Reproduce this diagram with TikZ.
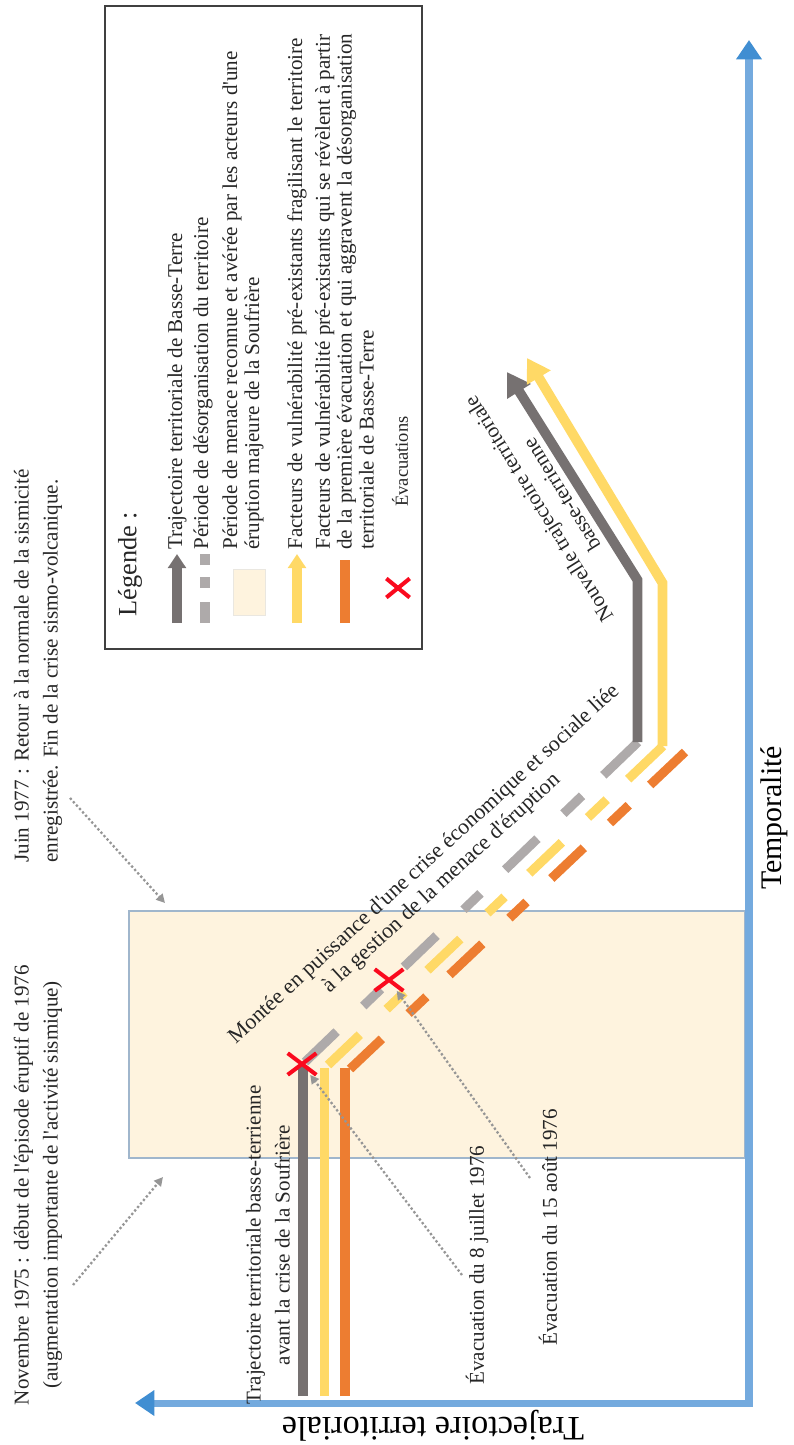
\documentclass[tikz,border=0pt]{standalone}
\usepackage{fontspec}
\setmainfont{Liberation Serif}
\newfontfamily\plainq{Liberation Serif}
\newcommand{\apos}{{\plainq'}}
\usetikzlibrary{arrows.meta,calc,shapes.misc}

\definecolor{trajgray}{RGB}{118,113,113}
\definecolor{disgray}{RGB}{174,170,170}
\definecolor{vulnyellow}{RGB}{255,217,102}
\definecolor{vulnorange}{RGB}{237,125,49}
\definecolor{evacred}{RGB}{250,10,30}
\definecolor{axisblue}{RGB}{116,170,222}
\definecolor{tipblue}{RGB}{64,142,210}
\definecolor{menacefill}{RGB}{254,243,222}
\definecolor{menaceline}{RGB}{160,182,204}
\definecolor{notegray}{RGB}{150,150,150}

\tikzset{
  axis/.style={axisblue, line width=4pt, -{Triangle[length=11pt,width=14pt,color=tipblue]}},
  axislabel/.style={font=\fontsize{17}{20}\selectfont, inner sep=0pt},
  track/.style={line width=5.6pt},
  dashtrack/.style={line width=5.2pt},
  bigtip/.style={-{Triangle[length=13pt,width=15pt]}},
  txt/.style={font=\fontsize{12}{16.5}\selectfont, inner sep=0pt, text=black!85},
  legtxt/.style={font=\fontsize{12}{12.5}\selectfont, inner sep=0pt, text=black!85,
    rotate=90, anchor=west, align=left},
  evac/.style={cross out, draw=evacred, line width=2.3pt, minimum width=14pt,
    minimum height=10pt, inner sep=0pt},
  note/.style={notegray, line width=1.3pt, dash pattern=on 1.3pt off 1.3pt,
    -{Triangle[length=5pt,width=5pt]}}
}

\begin{document}
\begin{tikzpicture}[x=0.02cm, y=-0.02cm]
\useasboundingbox (0,0) rectangle (794,1445);

% Periode de menace
\fill[menacefill] (129,911) rectangle (745,1158);
\draw[menaceline, line width=0.6pt] (129,911) rectangle (745,1158);

% Axes
\coordinate (ttop) at (749,40);
\coordinate (tleft) at (135,1403);
\draw[axis] (749,1406.5) -- (ttop);
\draw[axis] (752.5,1403) -- (tleft);
\node[axislabel, rotate=90] (temp) at (774,818) {Temporalité};
\node[axislabel, rotate=180, font=\fontsize{19.5}{22}\selectfont] (trajaxis) at (433,1426) {Trajectoire territoriale};

% Trajectoire avant la crise
\draw[track, trajgray] (303,1396) -- (303,1066);
\draw[track, vulnyellow] (324.5,1396) -- (324.5,1068);
\draw[track, vulnorange] (345,1396) -- (345,1068);

% Desorganisation
\coordinate (gA) at (305,1062); \coordinate (gB) at (638,742);
\coordinate (yA) at (328,1065); \coordinate (yB) at (663,746);
\coordinate (oA) at (350,1069); \coordinate (oB) at (685,752);
\foreach \a/\b in {0/.095,.175/.228,.297/.395,.476/.527,.601/.698,.776/.832,.896/1}{
  \draw[dashtrack, disgray] ($(gA)!\a!(gB)$) -- ($(gA)!\b!(gB)$);
  \draw[dashtrack, vulnyellow] ($(yA)!\a!(yB)$) -- ($(yA)!\b!(yB)$);
  \draw[dashtrack, vulnorange] ($(oA)!\a!(oB)$) -- ($(oA)!\b!(oB)$);
}

% Nouvelle trajectoire
\draw[track, trajgray, bigtip] (637.5,742) -- (637.5,580) -- (507,372);
\draw[track, vulnyellow, bigtip] (662.5,746) -- (662.5,583) -- (527,358);

% Evacuations
\node[evac] (evacA) at (302,1064) {};
\node[evac] (evacB) at (389,980) {};

% Textes
\node[txt, rotate=90, align=center] (avant) at (268,1245)
  {Trajectoire territoriale basse-terrienne\\avant la crise de la Soufrière};
\node[txt, rotate=42.5, align=center, font=\fontsize{12.5}{14.5}\selectfont] (montee) at (433,874)
  {Montée en puissance d\apos une crise économique et sociale liée\\à la gestion de la menace d\apos éruption};
\node[txt, rotate=122, align=center, font=\fontsize{12}{15.4}\selectfont] (nouvelle) at (550,502)
  {Nouvelle trajectoire territoriale\\basse-terrienne};
\node[txt, rotate=90, anchor=west] (ev8) at (477,1385) {Évacuation du 8 juillet 1976};
\node[txt, rotate=90, anchor=west] (ev15) at (548,1346) {Évacuation du 15 août 1976};
\node[txt, rotate=90, align=left, anchor=west] (juin) at (38,863)
  {Juin 1977 : Retour à la normale de la sismicité\\enregistrée. Fin de la crise sismo-volcanique.};
\node[txt, rotate=90, align=center] (nov) at (38,1185)
  {Novembre 1975 : début de l\apos épisode éruptif de 1976\\(augmentation importante de l\apos activité sismique)};

% Fleches pointillees
\coordinate (juinS) at (70,798); \coordinate (juinE) at (165,903);
\coordinate (novS) at (73,1285); \coordinate (novE) at (163,1177);
\coordinate (ev8S) at (462,1275);
\coordinate (ev15S) at (530,1178);
\draw[note] (juinS) -- (juinE);
\draw[note] (novS) -- (novE);
\draw[note] (ev8S) -- (evacA);
\draw[note] (ev15S) -- (evacB);

% Legende
\draw[black!75, line width=1.1pt] (105,6) rectangle (422,649);
\node[txt, rotate=90, anchor=west, font=\fontsize{15}{16}\selectfont] (legtitle) at (130,617) {Légende :};
\draw[track, trajgray, -{Triangle[length=8pt,width=10pt]}] (177,623) -- (177,554);
\draw[dashtrack, disgray] (205,623) -- (205,602) (205,588) -- (205,577) (205,565) -- (205,554);
\draw[fill=menacefill, draw=menacefill!80!black!40!white, line width=0.4pt] (233,569) rectangle (265,615);
\draw[track, vulnyellow, -{Triangle[length=8pt,width=10pt]}] (297,623) -- (297,554);
\draw[track, vulnorange] (345,623) -- (345,560);
\node[evac, minimum width=11pt, minimum height=8.5pt] (evacL) at (398,588) {};
\node[legtxt] (leg1) at (177,550) {Trajectoire territoriale de Basse-Terre};
\node[legtxt] (leg2) at (203,550) {Période de désorganisation du territoire};
\node[legtxt] (leg3) at (243,550) {Période de menace reconnue et avérée par les acteurs d\apos une\\éruption majeure de la Soufrière};
\node[legtxt] (leg4) at (297,550) {Facteurs de vulnérabilité pré-existants fragilisant le territoire};
\node[legtxt] (leg5) at (344.5,550) {Facteurs de vulnérabilité pré-existants qui se révèlent à partir\\de la première évacuation et qui aggravent la désorganisation\\territoriale de Basse-Terre};
\node[legtxt, font=\fontsize{10.5}{12}\selectfont] (leg6) at (400,507) {Évacuations};
\end{tikzpicture}
\end{document}
